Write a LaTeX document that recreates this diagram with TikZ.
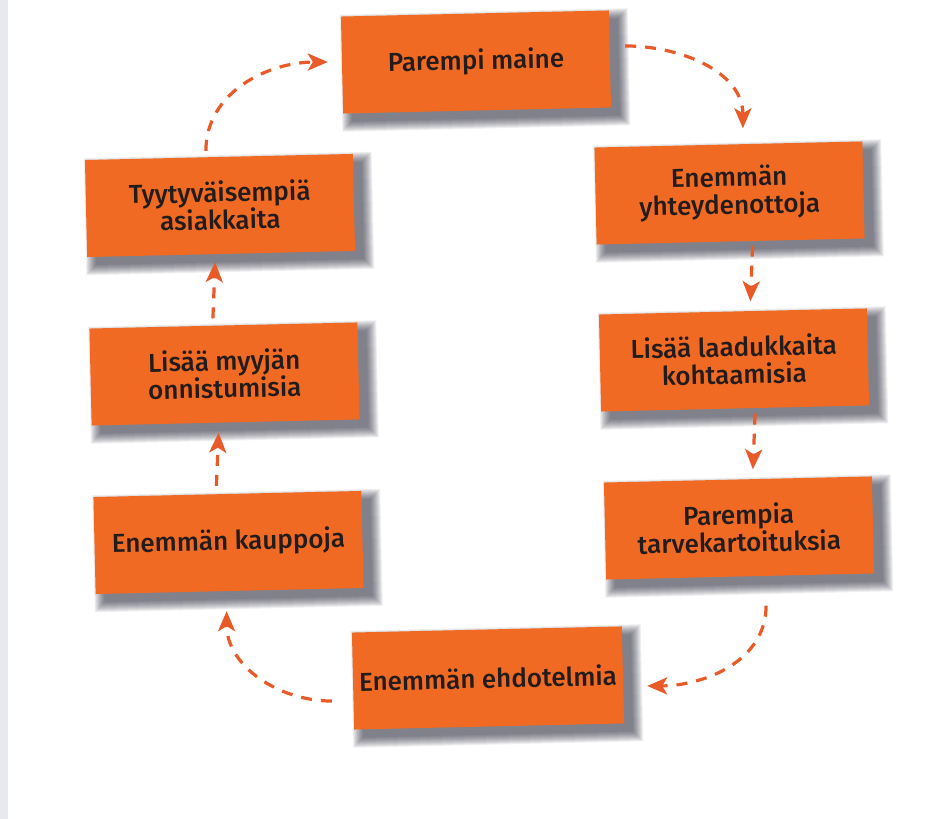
\documentclass[tikz,border=0pt]{standalone}
\usepackage{fontspec}
\setmainfont{Fira Sans Medium}
\usetikzlibrary{arrows.meta}

\definecolor{boxorange}{HTML}{F16A24}
\definecolor{flowred}{HTML}{E85A28}
\definecolor{inkdark}{HTML}{221C1C}
\definecolor{pageedge}{HTML}{E7E9EE}
\definecolor{shadowink}{HTML}{2A2A3C}

\tikzset{
  stepbox/.style={
    draw=none, fill=boxorange, text=inkdark,
    minimum width=268pt, minimum height=97pt,
    inner sep=0pt, align=center, rotate=1.3,
    font=\fontsize{26}{27.5}\selectfont
  },
  shadowlayer/.style={
    draw=none, fill=shadowink, fill opacity=0.075,
    inner sep=0pt, rotate=1.3
  },
  flow/.style={
    draw=flowred, line width=3.2pt, dash pattern=on 11pt off 9pt,
    -{Stealth[length=20pt,width=17pt,inset=5pt]}
  }
}

% soft drop shadow: a stack of faint, growing rectangles
\newcommand\softshadow[3]{%
  \foreach \grow in {0,...,10}{%
    \node[shadowlayer, minimum width=#3pt+2*\grow pt, minimum height=97pt+2*\grow pt]
      at (#1+9,#2-8) {};
  }%
}

\begin{document}
\begin{tikzpicture}[x=1pt,y=1pt]
  \useasboundingbox (0,0) rectangle (943,819);
  \fill[white] (0,0) rectangle (943,819);
  \fill[pageedge] (0,0) rectangle (8,819);

  % the eight steps of the cycle
  \softshadow{476}{757}{268}
  \node[stepbox] (maine) at (476,757)   {Parempi maine};
  \softshadow{729.5}{626}{268}
  \node[stepbox] (yht)   at (729.5,626) {Enemmän\\yhteydenottoja};
  \softshadow{734}{459}{268}
  \node[stepbox] (laad)  at (734,459)   {Lisää laadukkaita\\kohtaamisia};
  \softshadow{739}{291}{268}
  \node[stepbox] (tarve) at (739,291)   {Parempia\\tarvekartoituksia};
  \softshadow{488}{141}{270}
  \node[stepbox, minimum width=270pt] (ehd) at (488,141) {Enemmän ehdotelmia};
  \softshadow{228.5}{276.5}{268}
  \node[stepbox] (kaup)  at (228.5,276.5) {Enemmän kauppoja};
  \softshadow{224.5}{445}{268}
  \node[stepbox] (myyj)  at (224.5,445) {Lisää myyjän\\onnistumisia};
  \softshadow{220}{613.5}{268}
  \node[stepbox] (tyyt)  at (220,613.5) {Tyytyväisempiä\\asiakkaita};

  % dashed arrows running round the cycle
  \draw[flow] ([shift={(15pt,13pt)}]maine.east) to[out=0,in=90] ([shift={(14.5pt,16pt)}]yht.north);
  \draw[flow] ([shift={(22pt,-4pt)}]yht.south) -- ([shift={(17.5pt,10pt)}]laad.north);
  \draw[flow] ([shift={(20pt,-5pt)}]laad.south) -- ([shift={(15pt,10pt)}]tarve.north);
  \draw[flow] ([shift={(26pt,-29pt)}]tarve.south) to[out=-90,in=0] ([shift={(24pt,-11pt)}]ehd.east);
  \draw[flow] ([shift={(-21pt,-20pt)}]ehd.west) to[out=180,in=-90] ([shift={(-3pt,-20pt)}]kaup.south);
  \draw[flow] ([shift={(-11pt,8pt)}]kaup.north) -- ([shift={(-7pt,-10pt)}]myyj.south);
  \draw[flow] ([shift={(-10.5pt,7pt)}]myyj.north) -- ([shift={(-6pt,-8pt)}]tyyt.south);
  \draw[flow] ([shift={(-13pt,6pt)}]tyyt.north) to[out=90,in=180] ([shift={(-14pt,3pt)}]maine.west);
\end{tikzpicture}
\end{document}
